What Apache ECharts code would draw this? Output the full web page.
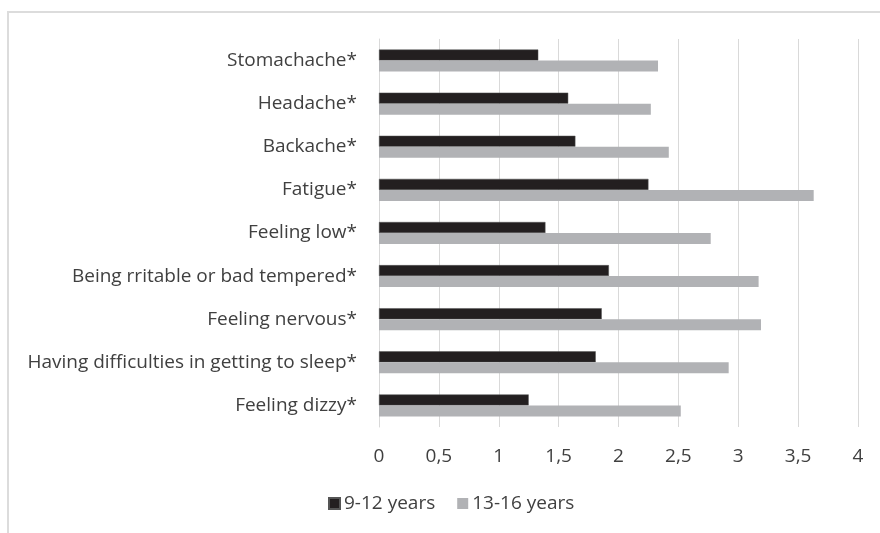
<!DOCTYPE html>
<html>
<head>
<meta charset="utf-8">
<script src="https://cdn.jsdelivr.net/npm/echarts@6/dist/echarts.min.js"></script>
<style>html,body{margin:0;padding:0;background:#fff;}#c{width:880px;height:533px;}</style>
</head>
<body>
<div id="c"></div>
<script>
var categories = ["Stomachache*", "Headache*", "Backache*", "Fatigue*", "Feeling low*", "Being rritable or bad tempered*", "Feeling nervous*", "Having difficulties in getting to sleep*", "Feeling dizzy*"];
var seriesNames = ["9-12 years", "13-16 years"];
var young = [1.33, 1.58, 1.64, 2.25, 1.39, 1.92, 1.86, 1.81, 1.25];
var old = [2.33, 2.27, 2.42, 3.63, 2.77, 3.17, 3.19, 2.92, 2.52];
var xTicks = [0, 0.5, 1, 1.5, 2, 2.5, 3, 3.5, 4];

var FONT = "Open Sans";
var TXT = "#404040";
var chart = echarts.init(document.getElementById('c'), null, {renderer: 'canvas'});
chart.setOption({
  animation: false,
  backgroundColor: '#fff',
  graphic: [{
    type: 'rect', silent: true,
    shape: {x: 8, y: 12, width: 1000, height: 1000},
    style: {fill: 'none', stroke: '#dcdcdc', lineWidth: 2}
  }],
  grid: {left: 379, right: 22, top: 39, bottom: 106, containLabel: false},
  xAxis: {
    type: 'value', min: 0, max: 4, interval: 0.5,
    axisLine: {show: false}, axisTick: {show: false},
    splitLine: {show: true, lineStyle: {color: '#d9d9d9', width: 1}},
    axisLabel: {
      color: TXT, fontFamily: FONT, fontSize: 19, margin: 20,
      formatter: function (v) { var i = xTicks.indexOf(v); return String(i >= 0 ? xTicks[i] : v).replace('.', ','); }
    }
  },
  yAxis: {
    type: 'category', data: categories, inverse: true,
    axisLine: {show: true, lineStyle: {color: '#d9d9d9'}}, axisTick: {show: false},
    axisLabel: {color: TXT, fontFamily: FONT, fontSize: 19, margin: 22}
  },
  legend: {
    data: seriesNames, bottom: 15, left: 323,
    itemWidth: 11, itemHeight: 11, itemGap: 22,
    icon: 'rect',
    textStyle: {color: TXT, fontFamily: FONT, fontSize: 19, padding: [0, 0, 0, -1]}
  },
  series: [
    {name: seriesNames[0], type: 'bar', data: young, barWidth: 11, barGap: '0%',
     itemStyle: {color: '#231f20', borderColor: '#555', borderWidth: 0.5}},
    {name: seriesNames[1], type: 'bar', data: old, barWidth: 11,
     itemStyle: {color: '#b1b2b5'}}
  ]
});
</script>
</body>
</html>
